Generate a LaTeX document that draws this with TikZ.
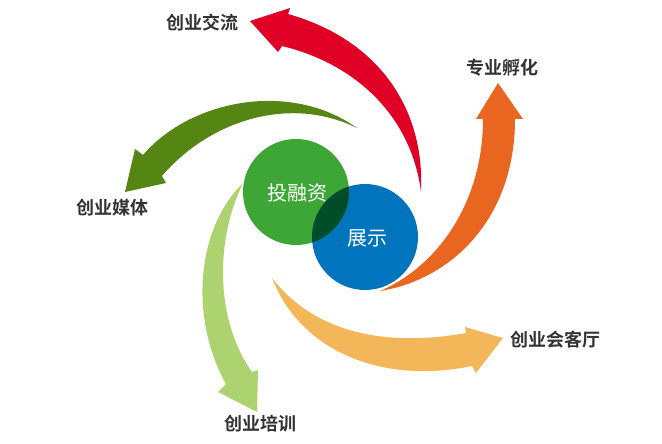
\documentclass[tikz,border=0pt]{standalone}
\usepackage{fontspec}
\newfontfamily\cjk{Noto Sans CJK SC}
\newfontfamily\cjkb{Noto Sans CJK SC Bold}
\definecolor{cred}{HTML}{E00025}
\definecolor{corange}{HTML}{E8661F}
\definecolor{clorange}{HTML}{F3B75A}
\definecolor{cdgreen}{HTML}{558614}
\definecolor{clgreen}{HTML}{ADD370}
\definecolor{cgreen}{HTML}{3DA636}
\definecolor{cblue}{HTML}{0075BE}
\definecolor{coverlap}{HTML}{004E29}
\definecolor{ctext}{HTML}{333333}
\tikzset{lbl/.style={font=\cjkb\fontsize{18}{18}\selectfont,text=ctext,inner sep=0pt},
ctxt/.style={font=\cjk\fontsize{20}{20}\selectfont,text=white,inner sep=0pt}}
\begin{document}
\begin{tikzpicture}[x=1pt,y=-1pt]
\useasboundingbox (0,0) rectangle (662,444);
% red
\fill[cred] (421,192) .. controls (425,110) and (380,40) .. (288,14) -- (290,8) -- (250,21) -- (278,52) -- (282,46) .. controls (360,65) and (412,120) .. (421,192) -- cycle;
% orange
\fill[corange] (380,291) .. controls (450,280) and (515,220) .. (515,119) -- (523,119) -- (498,83) -- (476,119) -- (483,119) .. controls (483,200) and (440,265) .. (380,291) -- cycle;
% light orange
\fill[clorange] (272,278) .. controls (320,340) and (400,345) .. (466,333) -- (465,327) -- (503,338) -- (476,373) -- (472,366) .. controls (380,385) and (300,350) .. (272,278) -- cycle;
% dark green
\fill[cdgreen] (357,128) .. controls (290,80) and (190,100) .. (143,155) -- (135,149) -- (125,192) -- (166,183) -- (162,176) .. controls (210,120) and (290,95) .. (357,128) -- cycle;
% light green
\fill[clgreen] (243,183) .. controls (195,230) and (190,320) .. (226,384) -- (218,392) -- (257,412) -- (258,370) -- (252,372) .. controls (215,320) and (215,240) .. (243,183) -- cycle;
% circles
\node[circle,fill=cgreen,minimum size=106pt,inner sep=0pt] (g) at (296,192) {};
\node[circle,fill=cblue,minimum size=106pt,inner sep=0pt] (b) at (365,237) {};
\begin{scope}
\clip (296,192) circle (53);
\fill[coverlap] (365,237) circle (53);
\end{scope}
\node[ctxt] (t1) at (297,193) {投融资};
\node[ctxt] (t2) at (367,238) {展示};
\node[lbl] (l1) at (202,23) {创业交流};
\node[lbl] (l2) at (502,68) {专业孵化};
\node[lbl] (l3) at (555,340) {创业会客厅};
\node[lbl] (l4) at (112,208) {创业媒体};
\node[lbl] (l5) at (260,424) {创业培训};
\end{tikzpicture}
\end{document}
